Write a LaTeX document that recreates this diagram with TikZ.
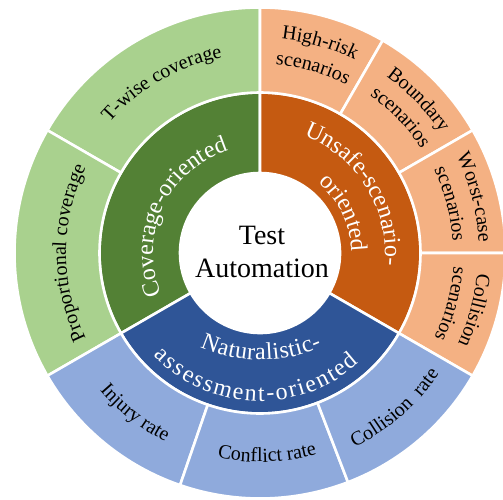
\documentclass[tikz,border=0pt]{standalone}
\usepackage{fontspec}
\setmainfont{Liberation Serif}
\usetikzlibrary{decorations.text}

\definecolor{covlight}{HTML}{A9D18E}
\definecolor{covdark}{HTML}{538135}
\definecolor{unslight}{HTML}{F4B183}
\definecolor{unsdark}{HTML}{C55A11}
\definecolor{natlight}{HTML}{8FAADC}
\definecolor{natdark}{HTML}{2F5597}

\newcommand\midfont{\fontsize{24}{28}\selectfont\color{white}}
\newcommand\outfont{\fontsize{20}{24}\selectfont\color{black}}

\tikzset{sector/.style={draw=white, line width=2.6pt, line join=round}}

% annular sector: colour, start angle, end angle, inner radius, outer radius
\newcommand\ringsector[5]{%
  \path[sector, fill=#1] (#2:#4pt) arc[start angle=#2, end angle=#3, radius=#4pt]
    -- (#3:#5pt) arc[start angle=#3, end angle=#2, radius=#5pt] -- cycle;}

% text set along a circular arc, centred on it: format, start, end, radius, text
\newcommand\arclabel[5]{%
  \path[decorate, decoration={text along path, text align=center, text={|#1|#5}}]
    (#2:#4pt) arc[start angle=#2, end angle=#3, radius=#4pt];}

% text spread over the whole arc: format, start, end, radius, text
\newcommand\fitlabel[5]{%
  \path[decorate, decoration={text along path, text align={fit to path}, text={|#1|#5}}]
    (#2:#4pt) arc[start angle=#2, end angle=#3, radius=#4pt];}

\begin{document}
\begin{tikzpicture}[x=1pt,y=1pt]
\useasboundingbox (-260,-247) rectangle (243,253);
\clip (-260,-247) rectangle (243,253);
\fill[white] (-260,-247) rectangle (243,253);

% inner ring: the three orientations
\ringsector{covdark}{90}{210}{80}{160.5}
\ringsector{unsdark}{-30}{90}{80}{160.5}
\ringsector{natdark}{210}{330}{80}{160.5}

% outer ring: coverage criteria
\ringsector{covlight}{90}{150}{160.5}{245.5}
\ringsector{covlight}{150}{210}{160.5}{245.5}
% outer ring: unsafe scenarios
\ringsector{unslight}{60}{90}{160.5}{245.5}
\ringsector{unslight}{30}{60}{160.5}{245.5}
\ringsector{unslight}{0}{30}{160.5}{245.5}
\ringsector{unslight}{-30}{0}{160.5}{245.5}
% outer ring: naturalistic metrics
\ringsector{natlight}{210}{251}{160.5}{245.5}
\ringsector{natlight}{251}{291}{160.5}{245.5}
\ringsector{natlight}{291}{330}{160.5}{245.5}

% hub
\node (hub) at (2,1) [align=center, inner sep=0pt,
  font=\fontsize{28}{33}\selectfont] {Test\\Automation};

% inner ring labels
\arclabel{\midfont}{215}{95}{107}{Coverage-oriented}
\arclabel{\midfont}{92}{-28}{125}{Unsafe-scenario-}
\arclabel{\midfont}{85.5}{-34.5}{91}{oriented}
\path[decorate, decoration={text along path, text align={fit to path},
    text={|\midfont|Naturalistic-}}]
  ([shift={(1,43)}]246:150pt) arc[start angle=246, end angle=294, radius=150pt];
\fitlabel{\midfont}{224}{312}{148}{assessment-oriented}

% outer ring labels
\arclabel{\outfont}{150}{90}{199}{T-wise coverage}
\arclabel{\outfont}{210}{150}{194}{Proportional coverage}
\arclabel{\outfont}{89}{59}{215}{High-risk}
\arclabel{\outfont}{89}{59}{189}{scenarios}
\arclabel{\outfont}{59}{29}{217}{Boundary}
\arclabel{\outfont}{59}{29}{192}{scenarios}
\arclabel{\outfont}{29.5}{-0.5}{219}{Worst-case}
\arclabel{\outfont}{29.5}{-0.5}{193}{scenarios}
\arclabel{\outfont}{0}{-30}{218}{Collision}
\arclabel{\outfont}{0}{-30}{194}{scenarios}
\arclabel{\outfont}{212}{252}{211}{Injury rate}
\arclabel{\outfont}{252}{292}{209}{Conflict rate}
\arclabel{\outfont}{291}{331}{216}{Collision {~}rate}
\end{tikzpicture}
\end{document}
